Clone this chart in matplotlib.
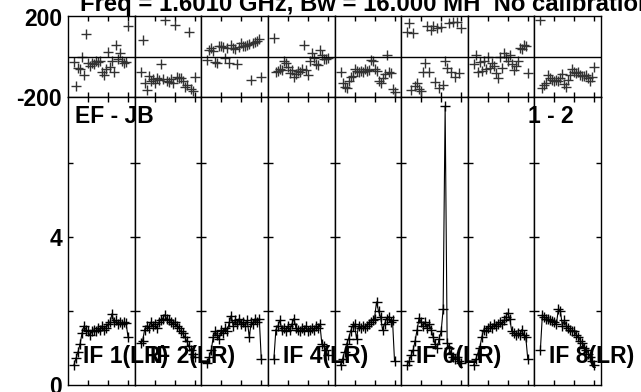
import matplotlib
matplotlib.use("Agg")
import matplotlib.pyplot as plt
import numpy as np

plt.rcParams['font.family'] = ['Liberation Sans', 'DejaVu Sans']

channels = list(range(3, 31))
if_labels = ["IF 1(LR)", "IF 2(LR)", None, "IF 4(LR)", None, "IF 6(LR)", None, "IF 8(LR)"]

amp_if1 = [0.55, 0.72, 0.9, 1.1, 1.4, 1.6, 1.5, 1.45, 1.35, 1.45, 1.5, 1.45, 1.55, 1.5,
           1.6, 1.5, 1.55, 1.65, 1.7, 1.93, 1.7, 1.75, 1.65, 1.7, 1.65, 1.7, 1.68, 1.3]
amp_if2 = [1.15, 1.2, 1.5, 1.6, 1.55, 1.7, 1.6, 1.65, 1.55, 1.7, 1.75, 1.8, 1.9, 1.8,
           1.75, 1.7, 1.65, 1.7, 1.6, 1.55, 1.45, 1.4, 1.3, 1.2, 1.05, 0.95, 0.85, 0.75]
amp_if3 = [0.6, 0.75, 0.95, 1.3, 1.45, 1.35, 1.25, 1.5, 1.4, 1.55, 1.45, 1.7, 1.88, 1.6,
           1.75, 1.65, 1.8, 1.65, 1.7, 1.6, 1.75, 1.3, 1.7, 1.65, 1.8, 1.7, 1.8, 0.7]
amp_if4 = [0.7, 1.5, 1.6, 1.75, 1.5, 1.55, 1.45, 1.6, 1.5, 1.65, 1.8, 1.55, 1.5, 1.45,
           1.55, 1.5, 1.6, 1.45, 1.5, 1.55, 1.5, 1.6, 1.55, 1.65, 1.1, 1.05, 0.95, 0.8]
amp_if5 = [0.55, 0.7, 0.9, 1.1, 1.25, 1.45, 1.6, 1.65, 1.25, 1.6, 1.55, 1.6, 1.55, 1.6,
           1.65, 1.7, 1.75, 1.8, 2.25, 2.0, 1.85, 1.5, 1.65, 1.8, 1.85, 1.7, 1.75, 0.65]
amp_if6 = [0.53, 0.65, 0.8, 0.95, 1.2, 1.5, 1.82, 1.7, 1.6, 1.7, 1.55, 1.65, 1.5, 1.3,
           1.1, 1.0, 1.25, 1.45, 2.05, 7.55, 1.15, 1.0, 0.85, 0.75, 0.7, 0.75, 0.65, 0.6]
amp_if7 = [0.55, 0.7, 0.85, 1.0, 1.3, 1.5, 1.45, 1.55, 1.6, 1.55, 1.65, 1.6, 1.65, 1.7,
           1.65, 1.75, 1.85, 1.95, 1.8, 1.45, 1.4, 1.35, 1.4, 1.35, 1.5, 1.35, 1.3, 0.7]
amp_if8 = [0.95, 1.9, 1.85, 1.8, 1.78, 1.75, 1.72, 1.7, 1.65, 2.05, 2.0, 1.6, 1.75, 1.6,
           1.55, 1.5, 1.45, 1.45, 1.35, 1.3, 1.2, 1.15, 1.0, 0.95, 0.85, 0.75, 0.65, 0.55]

ph_if1 = [-25, -145, -55, -60, 0, -90, 110, -30, -45, -30, -35, -20, -25, -20,
          -75, -90, -60, 20, -50, -20, -75, 55, -10, 15, -20, -30, -25, 150]
ph_if2 = [-75, 80, -130, -165, -95, -120, -110, -130, -105, -115, -35, -110, 180, -120,
          -125, -110, -130, 155, -100, -105, -105, -120, -150, -140, 120, -160, -170, -100]
ph_if3 = [-15, 30, 40, 25, -25, -30, 50, 50, 45, -5, 40, -30, 55, 40,
          35, -35, 45, 65, 50, 50, 55, 60, -115, 65, 70, 75, 85, -100]
ph_if4 = [90, -75, -70, -60, -65, -20, -30, -50, -80, -65, -100, -85, -70, -75,
          -60, 55, -65, -90, -20, 15, -5, -35, -40, 30, 5, -10, -10, -5]
ph_if5 = [-75, -130, -150, -155, -120, -100, -95, -60, -70, -75, -70, -75, -60, -70,
          -65, -15, -20, -60, -70, -120, -130, -105, -85, 5, -75, -80, -160, -175]
ph_if6 = [120, 165, -165, 115, -145, -130, -160, -170, -75, -30, 150, -75, 130, 150,
          -125, 140, -155, 145, -140, -20, -55, 165, -75, 170, -100, 170, -80, 140]
ph_if7 = [-35, 5, -75, -25, -70, -20, -60, 0, -55, -30, -45, -80, -105, 0,
          -55, 15, 0, -20, 5, -35, -65, -45, -20, 40, 35, 55, 50, -80]
ph_if8 = [180, -155, -140, -130, -90, -105, -115, -120, -115, -120, -105, -85, -135, -150,
          -115, -90, -60, -75, -80, -75, -90, -95, -95, -90, -105, -120, -100, -50]

amps = [amp_if1, amp_if2, amp_if3, amp_if4, amp_if5, amp_if6, amp_if7, amp_if8]
phases = [ph_if1, ph_if2, ph_if3, ph_if4, ph_if5, ph_if6, ph_if7, ph_if8]

W, H = 641, 392
fig = plt.figure(figsize=(W / 100, H / 100), dpi=100)

x0, x1 = 68, 601
pw = (x1 - x0) / 8
ph_top, ph_bot = 16, 97
am_top, am_bot = 97, 385

def fx(px):
    return px / W

def fy(py):
    return 1 - py / H

tick_len = 3.6
for i in range(8):
    left = x0 + i * pw
    axp = fig.add_axes([fx(left), fy(ph_bot), pw / W, (ph_bot - ph_top) / H])
    axa = fig.add_axes([fx(left), fy(am_bot), pw / W, (am_bot - am_top) / H])
    axp.plot(channels, phases[i], linestyle='none', marker='+', ms=6.5, mew=1.0, color='#333333')
    axp.axhline(0, color='black', lw=1.0)
    axp.set_ylim(-200, 200)
    axp.set_yticks([])
    axa.plot(channels, amps[i], color='black', lw=0.8, marker='+', ms=6.5, mew=1.0)
    axa.set_ylim(0, 7.8)
    axa.set_yticks([2, 4, 6])
    for ax in (axp, axa):
        ax.set_xlim(0, 33.3)
        ax.set_xticks([10, 20, 30])
        ax.tick_params(direction='in', length=tick_len, width=1.0, top=True, bottom=True,
                       left=True, right=True, labelbottom=False, labelleft=False)
        for s in ax.spines.values():
            s.set_linewidth(1.0)
    if if_labels[i]:
        fig.text(fx(left + 15), fy(363.5), if_labels[i], fontsize=16.5, fontweight='bold',
                 va='baseline', ha='left')

fs = 16.5
fig.text(fx(62), fy(19), "200", fontsize=fs, fontweight='bold', ha='right', va='center')
fig.text(fx(62), fy(100), "-200", fontsize=fs, fontweight='bold', ha='right', va='center')
fig.text(fx(62), fy(240), "4", fontsize=fs, fontweight='bold', ha='right', va='center')
fig.text(fx(62), fy(388), "0", fontsize=fs, fontweight='bold', ha='right', va='center')

fig.text(fx(75), fy(123), "EF - JB", fontsize=fs, fontweight='bold', ha='left', va='baseline')
fig.text(fx(528), fy(123), "1 - 2", fontsize=fs, fontweight='bold', ha='left', va='baseline')

fig.text(fx(80), fy(11), "Freq = 1.6010 GHz, Bw = 16.000 MH  No calibration",
         fontsize=17.2, fontweight='bold', ha='left', va='baseline')

fig.savefig("out.png", dpi=100)
